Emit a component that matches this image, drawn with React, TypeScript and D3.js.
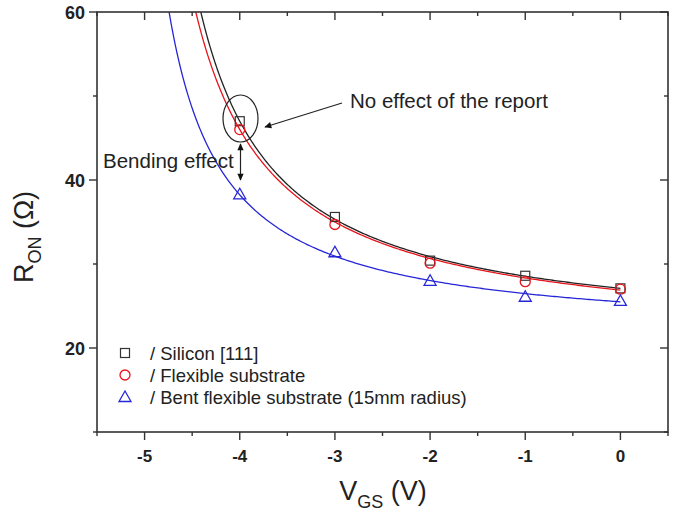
import React from "react";
import * as d3 from "d3";

const vgs = [-4, -3, -2, -1, 0];
const silicon = [47.0, 35.6, 30.4, 28.6, 27.1];
const flexible = [46.0, 34.7, 30.1, 27.9, 27.0];
const bent = [38.3, 31.4, 28.0, 26.1, 25.6];

// fitted hyperbolic model R = r0 + a / (V - vt), parameters
const fitSilicon = { r0: 21.0, a: 31.9, vt: -5.227 };
const fitFlexible = { r0: 20.7, a: 32.85, vt: -5.298 };
const fitBent = { r0: 21.3, a: 22.35, vt: -5.32 };

const xTicks = [-5, -4, -3, -2, -1, 0];
const yTicks = [20, 40, 60];
const legendLabels = ["/ Silicon [111]", "/ Flexible substrate", "/ Bent flexible substrate (15mm radius)"];

const W = 684, H = 519;
const L = 97, R = 668, T = 12, B = 432;
const FONT = "'Liberation Sans', Arial, Helvetica, sans-serif";
const AX = "#333";
const BLACK = "#222";
const RED = "#e8141c";
const BLUE = "#2626d6";

export default function App() {
  const x = d3.scaleLinear().domain([-5.5, 0.5]).range([L, R]);
  const y = d3.scaleLinear().domain([10, 60]).range([B, T]);

  const fitPath = (f: { r0: number; a: number; vt: number }) => {
    const start = f.vt + f.a / (62 - f.r0);
    const pts = d3.range(0, 301).map((i) => {
      const t = i / 300;
      const v = start + (0 - start) * Math.pow(t, 1.6);
      return [v, f.r0 + f.a / (v - f.vt)] as [number, number];
    });
    return d3.line<[number, number]>().x((d) => x(d[0])).y((d) => y(d[1]))(pts) || "";
  };

  const majorX = xTicks;
  const minorX = d3.range(-5.5, 0.51, 0.5).filter((v) => !majorX.includes(v));
  const majorY = yTicks;
  const minorY = [10, 30, 50];

  const sq = (cx: number, cy: number, c: string, k: string) => (
    <rect key={k} x={cx - 4.5} y={cy - 4.5} width={9} height={9} fill="none" stroke={c} strokeWidth={1.2} />
  );
  const ci = (cx: number, cy: number, c: string, k: string) => (
    <circle key={k} cx={cx} cy={cy} r={5} fill="none" stroke={c} strokeWidth={1.3} />
  );
  const tri = (cx: number, cy: number, c: string, k: string) => (
    <path key={k} d={`M${cx},${cy - 6} L${cx + 6},${cy + 4.5} L${cx - 6},${cy + 4.5} Z`} fill="none" stroke={c} strokeWidth={1.3} />
  );

  const legendY = [353, 375, 397];

  return (
    <svg width={W} height={H} style={{ position: "absolute", left: 0, top: 0, background: "#fff" }} fontFamily={FONT}>
      <defs>
        <clipPath id="plot">
          <rect x={L} y={T} width={R - L} height={B - T} />
        </clipPath>
        <marker id="ah" viewBox="0 0 10 10" refX="9" refY="5" markerWidth="9" markerHeight="7" orient="auto-start-reverse" markerUnits="userSpaceOnUse">
          <path d="M0,0.5 L10,5 L0,9.5 Z" fill="#111" />
        </marker>
      </defs>

      {/* curves */}
      <g clipPath="url(#plot)" fill="none" strokeWidth={1.3}>
        <path d={fitPath(fitSilicon)} stroke={BLACK} />
        <path d={fitPath(fitFlexible)} stroke={RED} />
        <path d={fitPath(fitBent)} stroke={BLUE} />
      </g>

      {/* markers */}
      <g>
        {vgs.map((v, i) => sq(x(v), y(silicon[i]), "#333", "s" + i))}
        {vgs.map((v, i) => ci(x(v), y(flexible[i]), RED, "c" + i))}
        {vgs.map((v, i) => tri(x(v), y(bent[i]), BLUE, "t" + i))}
      </g>

      {/* frame */}
      <rect x={L} y={T} width={R - L} height={B - T} fill="none" stroke={AX} strokeWidth={1.6} />

      {/* ticks */}
      <g stroke={AX} strokeWidth={1.4}>
        {majorX.map((v) => (
          <g key={"mx" + v}>
            <line x1={x(v)} x2={x(v)} y1={B} y2={B + 8} />
            <line x1={x(v)} x2={x(v)} y1={T} y2={T + 8} />
          </g>
        ))}
        {minorX.map((v) => (
          <g key={"nx" + v}>
            <line x1={x(v)} x2={x(v)} y1={B} y2={B + 4} />
            <line x1={x(v)} x2={x(v)} y1={T} y2={T + 4} />
          </g>
        ))}
        {majorY.map((v) => (
          <g key={"my" + v}>
            <line x1={L - 8} x2={L} y1={y(v)} y2={y(v)} />
            <line x1={R - 8} x2={R} y1={y(v)} y2={y(v)} />
          </g>
        ))}
        {minorY.map((v) => (
          <g key={"ny" + v}>
            <line x1={L - 4} x2={L} y1={y(v)} y2={y(v)} />
            <line x1={R - 4} x2={R} y1={y(v)} y2={y(v)} />
          </g>
        ))}
      </g>

      {/* tick labels */}
      <g fontWeight="bold" fill="#222">
        {majorX.map((v) => (
          <text key={"lx" + v} x={x(v)} y={462} fontSize={17} textAnchor="middle">{v === 0 ? "0" : `-${Math.abs(v)}`}</text>
        ))}
        {majorY.map((v) => (
          <text key={"ly" + v} x={85} y={y(v) + 6.5} fontSize={18} textAnchor="end">{v}</text>
        ))}
      </g>

      {/* axis titles */}
      <text x={383} y={500} fontSize={27} textAnchor="middle" fill="#222">
        V<tspan fontSize={18} dy={8}>GS</tspan><tspan dy={-8}> (V)</tspan>
      </text>
      <text transform="translate(33,237) rotate(-90)" fontSize={27} textAnchor="middle" fill="#222">
        R<tspan fontSize={18} dy={8}>ON</tspan><tspan dy={-8}> (Ω)</tspan>
      </text>

      {/* annotations */}
      <ellipse cx={240.5} cy={118.5} rx={17.5} ry={23.5} fill="none" stroke="#222" strokeWidth={1.2} />
      <line x1={342} y1={103} x2={265} y2={127} stroke="#222" strokeWidth={1.2} markerEnd="url(#ah)" />
      <text x={350} y={108} fontSize={20.5} fill="#222">No effect of the report</text>
      <line x1={240.5} y1={144} x2={240.5} y2={180} stroke="#222" strokeWidth={1.2} markerStart="url(#ah)" markerEnd="url(#ah)" />
      <text x={103} y={168} fontSize={20.5} fill="#222">Bending effect</text>

      {/* legend */}
      {sq(125, legendY[0], "#333", "ls")}
      {ci(125, legendY[1], RED, "lc")}
      {tri(125, legendY[2], BLUE, "lt")}
      {legendLabels.map((t, i) => (
        <text key={"lg" + i} x={150} y={legendY[i] + 6.5} fontSize={18.5} fill="#222">{t}</text>
      ))}
    </svg>
  );
}
